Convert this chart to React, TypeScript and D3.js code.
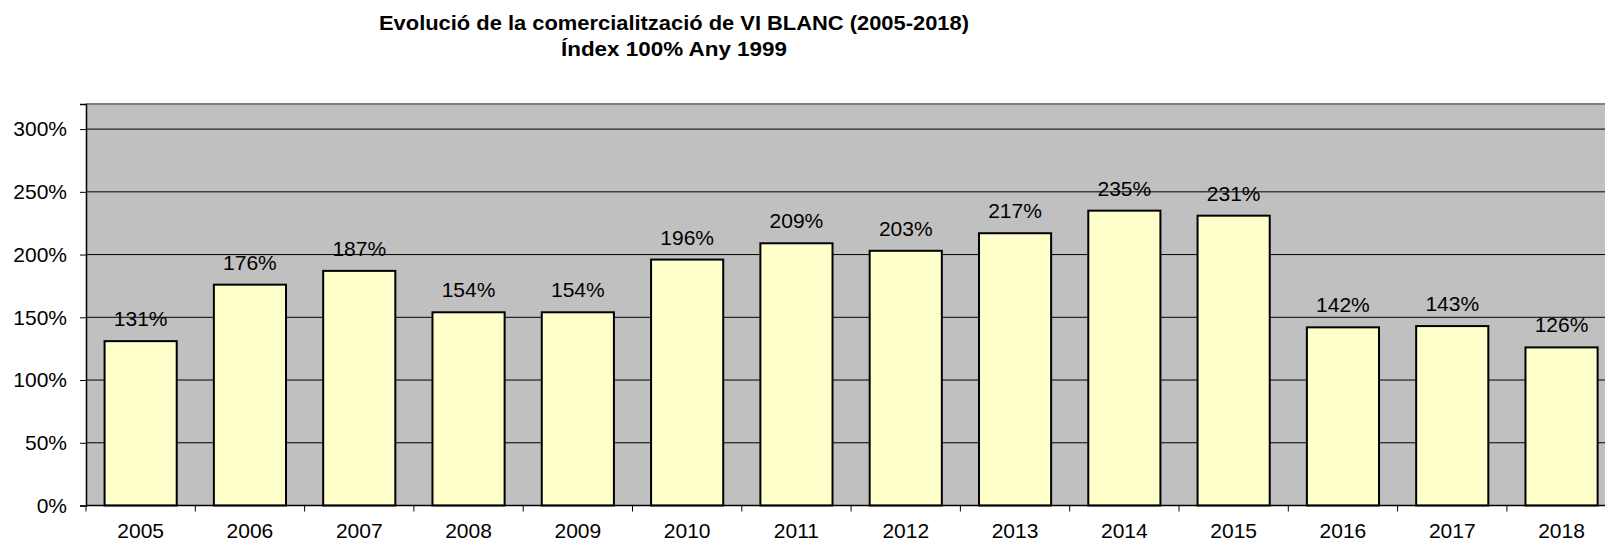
import { useEffect, useRef } from 'react'
import * as d3 from 'd3'

const years = ['2005', '2006', '2007', '2008', '2009', '2010', '2011', '2012', '2013', '2014', '2015', '2016', '2017', '2018']
const values = [131, 176, 187, 154, 154, 196, 209, 203, 217, 235, 231, 142, 143, 126]
const yTicks = [0, 50, 100, 150, 200, 250, 300]

const W = 1605
const H = 544
const left = 86
const top = 104
const bottom = 505.5
const band = 109.3

const App = () => {
  const svgRef = useRef<SVGSVGElement>(null)

  useEffect(() => {
    document.body.style.margin = '0'
    const svg = d3.select(svgRef.current)
    svg.selectAll('*').remove()

    const x = d3.scaleBand<string>().domain(years).range([left, left + band * years.length]).paddingInner(0.34).paddingOuter(0.17)
    const y = d3.scaleLinear().domain([0, 320]).range([bottom, top])
    const font = 'Liberation Sans, Arial, sans-serif'

    // plot background
    svg.append('rect')
      .attr('x', left).attr('y', top)
      .attr('width', band * years.length).attr('height', bottom - top)
      .attr('fill', '#c0c0c0')

    svg.append('line')
      .attr('x1', left).attr('x2', W)
      .attr('y1', top).attr('y2', top)
      .attr('stroke', '#808080').attr('stroke-width', 2)

    // gridlines
    svg.selectAll('.grid')
      .data(yTicks.filter(t => t > 0))
      .join('line')
      .attr('x1', left).attr('x2', W)
      .attr('y1', t => y(t)).attr('y2', t => y(t))
      .attr('stroke', '#000').attr('stroke-width', 1)

    // y axis
    const yAxis = d3.axisLeft(y).tickValues(yTicks).tickSize(6).tickFormat(d => `${d}%`)
    const gy = svg.append('g').attr('transform', `translate(${left},0)`).call(yAxis)
    gy.select('.domain').attr('stroke', '#000').attr('stroke-width', 1.5)
    gy.selectAll('.tick line').attr('stroke', '#000')
    gy.selectAll('.tick text')
      .attr('font-family', font).attr('font-size', 21).attr('fill', '#000').attr('x', -19)

    // bars
    svg.selectAll('.bar')
      .data(values)
      .join('rect')
      .attr('x', (d, i) => x(years[i]) as number)
      .attr('y', d => y(d))
      .attr('width', x.bandwidth())
      .attr('height', d => bottom - y(d))
      .attr('fill', '#ffffcc')
      .attr('stroke', '#000')
      .attr('stroke-width', 2)

    // value labels
    svg.selectAll('.label')
      .data(values)
      .join('text')
      .attr('x', (d, i) => (x(years[i]) as number) + x.bandwidth() / 2)
      .attr('y', d => y(d) - 15)
      .attr('text-anchor', 'middle')
      .attr('font-family', font).attr('font-size', 21)
      .text(d => `${d}%`)

    // x axis
    svg.append('line')
      .attr('x1', left).attr('x2', W)
      .attr('y1', bottom).attr('y2', bottom)
      .attr('stroke', '#000').attr('stroke-width', 1.5)

    svg.selectAll('.xtick')
      .data(d3.range(years.length + 1))
      .join('line')
      .attr('x1', i => left + i * band).attr('x2', i => left + i * band)
      .attr('y1', bottom).attr('y2', bottom + 6)
      .attr('stroke', '#000')

    svg.selectAll('.xlabel')
      .data(years)
      .join('text')
      .attr('x', d => (x(d) as number) + x.bandwidth() / 2)
      .attr('y', 538)
      .attr('text-anchor', 'middle')
      .attr('font-family', font).attr('font-size', 21)
      .text(d => d)

    // title
    const title = svg.append('text')
      .attr('x', 674).attr('text-anchor', 'middle')
      .attr('font-family', font).attr('font-size', 20).attr('font-weight', 'bold')
    title.append('tspan').attr('x', 674).attr('y', 30)
      .attr('textLength', 590).attr('lengthAdjust', 'spacingAndGlyphs')
      .text('Evolució de la comercialització de VI BLANC (2005-2018)')
    title.append('tspan').attr('x', 674).attr('y', 56)
      .attr('textLength', 226).attr('lengthAdjust', 'spacingAndGlyphs')
      .text('Índex 100% Any 1999')
  }, [])

  return <svg ref={svgRef} width={W} height={H} style={{ display: 'block', background: '#fff' }} />
}

export default App
